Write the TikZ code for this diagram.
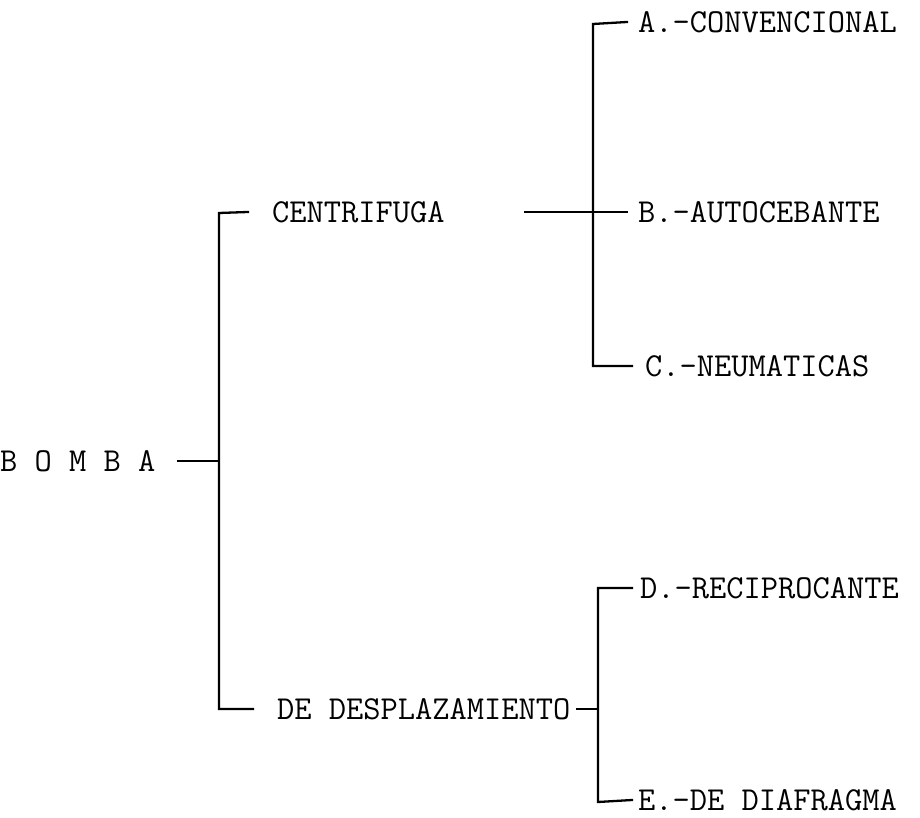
\documentclass[tikz,border=0pt]{standalone}
\usepackage{fontspec}
\begin{document}
\begin{tikzpicture}[x=1pt,y=1pt,
  lbl/.style={anchor=west,inner sep=0pt,font=\ttfamily\fontsize{33.5}{34}\selectfont},
  conn/.style={line width=2.3pt,line cap=rect}]
\useasboundingbox (0,0) rectangle (920,817);
% text nodes
\node[lbl] (bomba) at (0,356) {B O M B A};
\node[lbl] (centrifuga) at (272,605) {CENTRIFUGA};
\node[lbl] (desplaz) at (277,108) {DE DESPLAZAMIENTO};
\node[lbl] (A) at (638,795) {A.-CONVENCIONAL};
\node[lbl] (B) at (638,605) {B.-AUTOCEBANTE};
\node[lbl] (C) at (645,451) {C.-NEUMATICAS};
\node[lbl] (D) at (640,229) {D.-RECIPROCANTE};
\node[lbl] (E) at (638,17) {E.-DE DIAFRAGMA};
% junctions
\coordinate (Ltop) at (219,604);
\coordinate (Lmid) at (219,356);
\coordinate (Lbot) at (219,108);
\coordinate (Rtop) at (593,793);
\coordinate (Rmid) at (593,605);
\coordinate (Rbot) at (593,451);
\coordinate (Stop) at (598,229);
\coordinate (Smid) at (598,108);
\coordinate (Sbot) at (598,15);
% connectors
\draw[conn] ([xshift=22pt]bomba.east) -- (Lmid);
\draw[conn] ([xshift=-24pt]centrifuga.west) -- (Ltop) -- (Lbot) -- ([xshift=-24pt]desplaz.west);
\draw[conn] ([xshift=80pt]centrifuga.east) -- (Rmid) -- ([xshift=-11pt]B.west);
\draw[conn] ([xshift=-11pt]A.west) -- (Rtop) -- (Rbot) -- ([xshift=-13pt]C.west);
\draw[conn] ([xshift=6pt]desplaz.east) -- (Smid);
\draw[conn] ([xshift=-8pt]D.west) -- (Stop) -- (Sbot) -- ([xshift=-6pt]E.west);
\end{tikzpicture}
\end{document}
